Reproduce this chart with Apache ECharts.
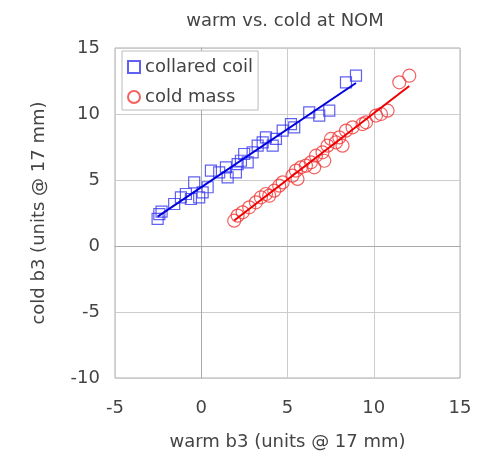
<!DOCTYPE html>
<html><head><meta charset="utf-8">
<script src="https://cdn.jsdelivr.net/npm/echarts@6/dist/echarts.min.js"></script>
<style>html,body{margin:0;padding:0;background:#fff}#c{width:495px;height:456px}</style>
</head><body><div id="c"></div>
<script>
const xTicks = [-5, 0, 5, 10, 15];
const yTicks = [-10, -5, 0, 5, 10, 15];
const coilX = [-2.53,-2.43,-2.3,-1.57,-1.18,-0.89,-0.60,-0.41,-0.12,0.08,0.37,0.56,1.04,1.53,1.43,2.01,2.11,2.30,2.49,2.69,2.98,3.27,3.56,3.75,4.14,4.33,4.72,5.20,5.39,6.26,6.84,7.42,8.39,8.97];
const coilY = [2.05,2.42,2.6,3.18,3.69,3.94,3.56,4.82,3.69,4.07,4.45,5.71,5.58,5.20,5.96,5.58,6.21,6.46,6.97,6.34,7.10,7.60,7.85,8.23,7.60,8.11,8.74,9.24,8.99,10.13,9.88,10.25,12.40,12.90];
const massX = [1.91,2.11,2.40,2.78,3.17,3.46,3.75,3.94,4.23,4.52,4.72,5.29,5.49,5.58,5.78,6.07,6.36,6.55,6.65,7.03,7.13,7.32,7.52,7.81,8.00,8.19,8.39,8.77,9.35,9.55,10.13,10.42,10.80,11.48,12.06];
const massY = [1.92,2.30,2.55,2.93,3.31,3.69,3.94,3.81,4.19,4.57,4.82,5.33,5.71,5.08,5.96,6.09,6.34,5.96,6.84,7.10,6.46,7.60,8.11,7.85,8.23,7.60,8.74,8.99,9.24,9.37,9.88,10.00,10.25,12.40,12.90];

function pairs(xs, ys){ return xs.map((x,i)=>[x, ys[i]]); }
function fitLine(xs, ys){
  const n = xs.length;
  const mx = xs.reduce((a,b)=>a+b,0)/n, my = ys.reduce((a,b)=>a+b,0)/n;
  let sxy=0, sxx=0;
  for(let i=0;i<n;i++){ sxy+=(xs[i]-mx)*(ys[i]-my); sxx+=(xs[i]-mx)*(xs[i]-mx); }
  const b = sxy/sxx, a = my - b*mx;
  const x0 = Math.min(...xs), x1 = Math.max(...xs);
  return [[x0, a+b*x0],[x1, a+b*x1]];
}
const FONT = 'DejaVu Sans';
const TXT = '#444';
const chart = echarts.init(document.getElementById('c'));
chart.setOption({
  animation:false,
  backgroundColor:'#fff',
  title:{text:'warm vs. cold at NOM', left:280, top:7, textAlign:'center',
    textStyle:{fontFamily:FONT, fontSize:18, fontWeight:'normal', color:TXT}},
  grid:{left:115, right:35, top:48, bottom:78, show:true, borderColor:'#aaa', borderWidth:1},
  legend:{orient:'vertical', left:122, top:51, data:['collared coil','cold mass'],
    backgroundColor:'#fff', borderColor:'#bbb', borderWidth:1, padding:[7,5,4,5], itemGap:12,
    itemWidth:12, itemHeight:12,
    textStyle:{fontFamily:FONT, fontSize:18, color:TXT}},
  xAxis:{type:'value', min:-5, max:15, interval:5,
    name:'warm b3 (units @ 17 mm)', nameLocation:'middle', nameGap:55,
    nameTextStyle:{fontFamily:FONT, fontSize:18, color:TXT},
    axisLine:{show:true, lineStyle:{color:'#aaa'}},
    axisTick:{show:false},
    axisLabel:{fontFamily:FONT, fontSize:18, color:TXT, margin:21},
    splitLine:{show:true, lineStyle:{color:'#ccc', width:1}}},
  yAxis:{type:'value', min:-10, max:15, interval:5,
    name:'cold b3 (units @ 17 mm)', nameLocation:'middle', nameGap:67,
    nameTextStyle:{fontFamily:FONT, fontSize:18, color:TXT},
    axisLine:{show:true, lineStyle:{color:'#aaa'}},
    axisTick:{show:false},
    axisLabel:{fontFamily:FONT, fontSize:18, color:TXT, margin:15},
    splitLine:{show:true, lineStyle:{color:'#ccc', width:1}}},
  series:[
    {name:'collared coil', type:'scatter', symbol:'rect', symbolSize:11,
     itemStyle:{color:'rgba(0,0,0,0)', borderColor:'#3838f0', borderWidth:1.2},
     data:pairs(coilX, coilY), z:3},
    {name:'cold mass', type:'scatter', symbol:'circle', symbolSize:13,
     itemStyle:{color:'rgba(0,0,0,0)', borderColor:'#f03838', borderWidth:1.2},
     data:pairs(massX, massY), z:3},
    {name:'coil fit', type:'line', data:fitLine(coilX, coilY), symbol:'none',
     lineStyle:{color:'#0000dd', width:2}, z:4},
    {name:'mass fit', type:'line', data:fitLine(massX, massY), symbol:'none',
     lineStyle:{color:'#ee0000', width:2}, z:4}
  ]
});
</script></body></html>
